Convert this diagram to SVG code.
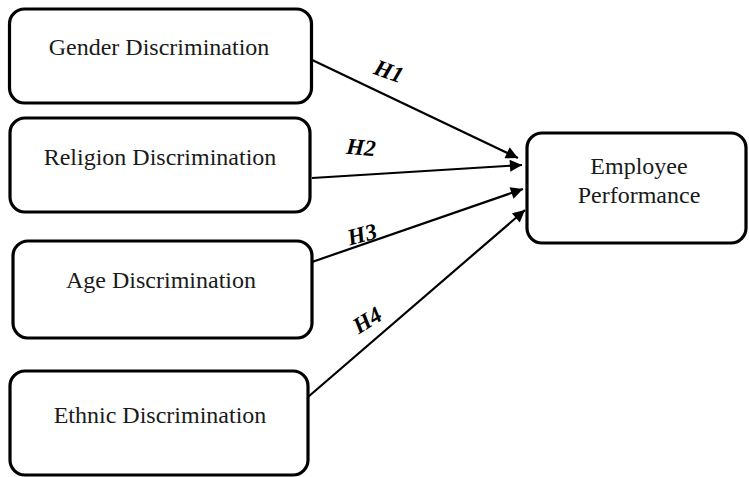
<svg xmlns="http://www.w3.org/2000/svg" width="749" height="477" viewBox="0 0 749 477">
  <style>
    .box { fill: #ffffff; stroke: #000000; stroke-width: 3.2; }
    .lbl { font-family: "Liberation Serif", "Times New Roman", serif; font-size: 24px; fill: #1a1a1a; text-anchor: middle; }
    .h { font-family: "Liberation Serif", "Times New Roman", serif; font-size: 23px; font-weight: bold; font-style: italic; fill: #000; text-anchor: middle; }
    .edge { stroke: #000000; stroke-width: 2.2; fill: none; marker-end: url(#arr); }
  </style>
  <defs>
    <marker id="arr" viewBox="0 0 10 10" refX="10" refY="5" markerWidth="7" markerHeight="5.5" orient="auto" markerUnits="strokeWidth">
      <path d="M0,0 L10,5 L0,10 z" fill="#000"/>
    </marker>
  </defs>
  <rect width="749" height="477" fill="#ffffff"/>

  <g id="connectors">
    <line class="edge" x1="308" y1="58" x2="518" y2="158"/>
    <line class="edge" x1="312" y1="178" x2="522" y2="165"/>
    <line class="edge" x1="312" y1="262" x2="523" y2="189"/>
    <line class="edge" x1="308" y1="397" x2="525" y2="210"/>
    <text class="h" x="389" y="79" transform="rotate(20 389 71)">H1</text>
    <text class="h" x="361" y="155" transform="rotate(5 361 147)">H2</text>
    <text class="h" x="362" y="242" transform="rotate(-15 362 234)">H3</text>
    <text class="h" x="367" y="328" transform="rotate(-32 367 320)">H4</text>
  </g>

  <g id="gender">
    <rect class="box" x="9.5" y="9" width="302" height="94" rx="15"/>
    <text class="lbl" x="159" y="55">Gender Discrimination</text>
  </g>
  <g id="religion">
    <rect class="box" x="10" y="118" width="300" height="94" rx="15"/>
    <text class="lbl" x="160" y="165">Religion Discrimination</text>
  </g>
  <g id="age">
    <rect class="box" x="13" y="241" width="299" height="97" rx="15"/>
    <text class="lbl" x="161" y="288">Age Discrimination</text>
  </g>
  <g id="ethnic">
    <rect class="box" x="10" y="371" width="298" height="104" rx="15"/>
    <text class="lbl" x="160" y="423">Ethnic Discrimination</text>
  </g>
  <g id="employee">
    <rect class="box" x="527" y="133" width="219" height="110" rx="15"/>
    <text class="lbl" x="639" y="174">Employee</text>
    <text class="lbl" x="639" y="203">Performance</text>
  </g>
</svg>
